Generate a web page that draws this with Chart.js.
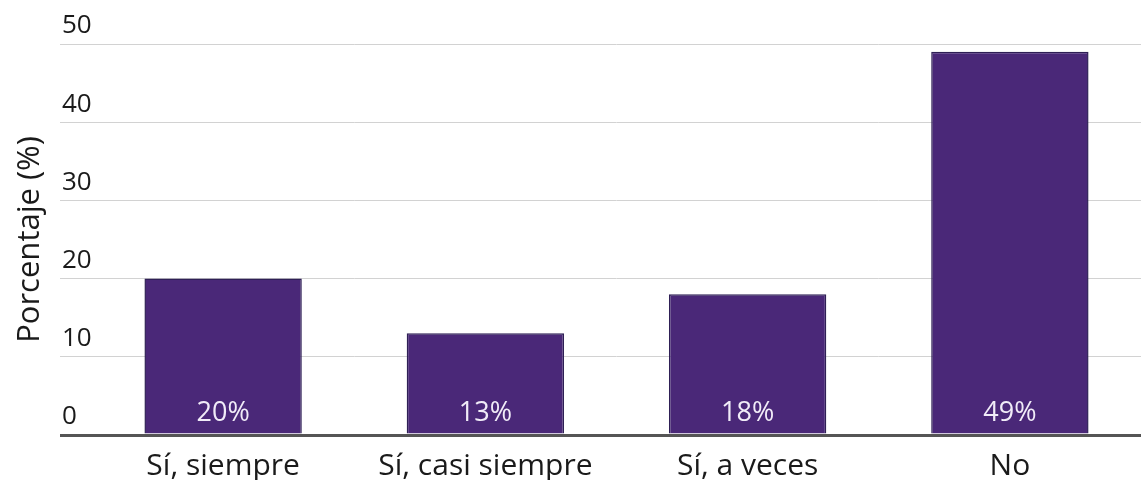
<!DOCTYPE html>
<html lang="es">
<head>
<meta charset="utf-8">
<title>Porcentaje por respuesta</title>
<script src="https://cdn.jsdelivr.net/npm/chart.js@4.4.1/dist/chart.umd.min.js"></script>
<style>
    html, body { margin: 0; padding: 0; background: #fff; }
    #wrap { width: 1141px; height: 480px; position: relative; }
</style>
</head>
<body>
<div id="wrap"><canvas id="respuestas"></canvas></div>
<script>
// Respuestas y porcentajes
const categorias = ['Sí, siempre', 'Sí, casi siempre', 'Sí, a veces', 'No'];
const porcentajes = [20, 13, 18, 49];
const ticksY = [0, 10, 20, 30, 40, 50];

const FONT = "'Open Sans', 'Noto Sans', sans-serif";
const BAR_COLOR = '#4a2878';

// white percentage label at the foot of each bar
const etiquetasBarras = {
    id: 'etiquetasBarras',
    afterDatasetsDraw(chart) {
        const { ctx } = chart;
        const meta = chart.getDatasetMeta(0);
        ctx.save();
        ctx.font = `27px ${FONT}`;
        ctx.fillStyle = '#f1ecf8';
        ctx.textAlign = 'center';
        ctx.textBaseline = 'middle';
        meta.data.forEach((bar, i) => {
            ctx.fillText(porcentajes[i] + '%', bar.x, bar.base - 20);
        });
        ctx.restore();
    }
};

new Chart(document.getElementById('respuestas'), {
    type: 'bar',
    data: {
        labels: categorias,
        datasets: [{
            data: porcentajes,
            backgroundColor: BAR_COLOR,
            borderColor: '#2e1f55',
            borderWidth: 1.5,
            barPercentage: 0.6,
            categoryPercentage: 1
        }]
    },
    options: {
        responsive: true,
        maintainAspectRatio: false,
        animation: false,
        layout: { padding: { top: 44, right: 0, left: 0, bottom: 0 } },
        plugins: {
            legend: { display: false },
            tooltip: { enabled: false }
        },
        scales: {
            x: {
                afterFit(scale) {
                    scale.height = 45;
                },
                grid: { display: false, drawTicks: false },
                border: { display: false },
                ticks: {
                    color: '#1a1a1a',
                    padding: 13,
                    font: { family: FONT, size: 30 }
                }
            },
            y: {
                min: 0,
                max: 50,
                afterBuildTicks(scale) {
                    scale.ticks = ticksY.map(v => ({ value: v }));
                },
                // room for the title plus the gridline stubs on the left
                afterFit(scale) {
                    scale.width = 92;
                },
                border: { display: false },
                grid: {
                    tickLength: 32,
                    color: ctx => ctx.tick && ctx.tick.value === 0 ? '#555555' : '#d2d2d2',
                    lineWidth: ctx => ctx.tick && ctx.tick.value === 0 ? 3 : 1
                },
                ticks: {
                    mirror: true,
                    padding: -30,
                    labelOffset: -18,
                    color: '#1a1a1a',
                    font: { family: FONT, size: 26 }
                },
                title: {
                    display: true,
                    text: 'Porcentaje (%)',
                    color: '#1a1a1a',
                    font: { family: FONT, size: 31 },
                    padding: { top: 12, bottom: 12 }
                }
            }
        }
    },
    plugins: [etiquetasBarras]
});
</script>
</body>
</html>
